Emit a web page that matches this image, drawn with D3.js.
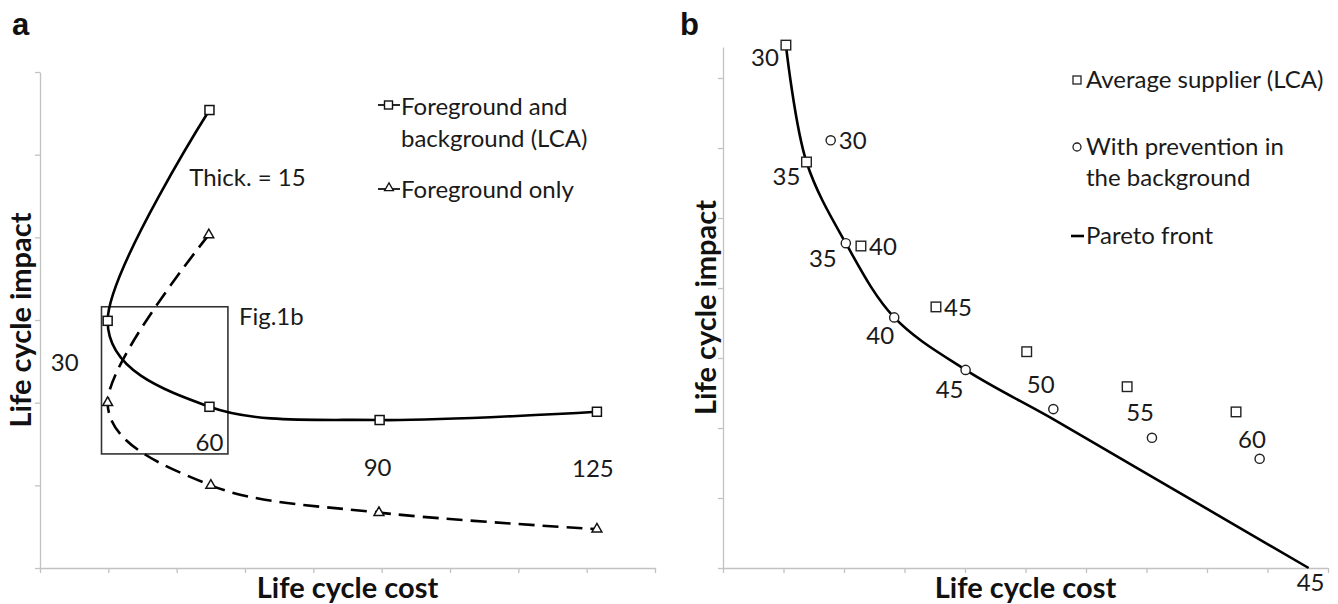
<!DOCTYPE html>
<html>
<head>
<meta charset="utf-8">
<script src="https://cdn.jsdelivr.net/npm/d3@7"></script>
<style>
  body { margin: 0; background: #fff; }
  svg { font-family: Lato, "Open Sans", sans-serif; }
  .axis path, .axis line { stroke: #c2c2c2; stroke-width: 1.3; }
  .lbl { font-size: 24px; fill: #1a1a1a; }
  .title { font-size: 29px; font-weight: bold; fill: #111; }
  .panel { font-family: "Liberation Sans", Arial, sans-serif; font-size: 31px; font-weight: bold; fill: #111; }
</style>
</head>
<body>
<svg id="chart" width="1338" height="604"></svg>
<script>
// ---- panel a : thickness scenarios (axes in arbitrary units) ----
const thickA     = [15, 30, 60, 90, 125];
const costLCA    = [2.48, 0.99, 2.48, 4.97, 8.15];
const impactLCA  = [5.54, 2.99, 1.95, 1.79, 1.89];
const costFG     = [2.47, 0.99, 2.50, 4.96, 8.15];
const impactFG   = [4.03, 2.00, 1.00, 0.67, 0.47];
const zoomWindow = [0.90, 2.75, 1.38, 3.16];   // cost from/to, impact from/to (Fig.1b)

// ---- panel b : thickness 30..60 ----
const thickB     = [30, 35, 40, 45, 50, 55, 60];
const costAvg    = [1.04, 1.38, 2.28, 3.52, 5.02, 6.68, 8.48];
const impactAvg  = [7.47, 5.80, 4.60, 3.73, 3.09, 2.59, 2.23];
const costPrev   = [1.78, 2.03, 2.83, 4.01, 5.46, 7.09, 8.87];
const impactPrev = [6.11, 4.64, 3.58, 2.83, 2.27, 1.86, 1.56];
// pareto front
const paretoCost   = [1.04, 1.38, 2.03, 2.83, 4.01, 5.45, 6.86, 9.68];
const paretoImpact = [7.47, 5.80, 4.64, 3.58, 2.83, 2.13, 1.42, 0];
const paretoEndLabel = 45;

// label offsets (px) relative to marker
const offA    = [[38, 67], [-43, 42], [0, 36], [-2, 47], [-4, 57]];
const offAvg  = [[-21, 12], [-20, 14], [22, 0], [22, 0], [14, 33], [13, 26], [16, 27]];
const offPrev = [[22, 0], [-23, 15], [-14, 18], [-16, 19], null, null, null];

const svg = d3.select('#chart');

// ================= panel a =================
const xa = d3.scaleLinear().domain([0, 9]).range([40, 655]);
const ya = d3.scaleLinear().domain([0, 6]).range([568, 72]);
const gA = svg.append('g');

gA.append('g').attr('class', 'axis')
  .attr('transform', `translate(0,${ya(0)})`)
  .call(d3.axisBottom(xa).tickValues(d3.range(0, 10)).tickSize(5).tickSizeOuter(0).tickFormat(''));
gA.append('g').attr('class', 'axis')
  .attr('transform', `translate(${xa(0)},0)`)
  .call(d3.axisLeft(ya).tickValues(d3.range(0, 7)).tickSize(5).tickSizeOuter(0).tickFormat(''));

const ptsLCA = thickA.map((t, i) => ({ t, x: costLCA[i], y: impactLCA[i] }));
const ptsFG  = thickA.map((t, i) => ({ t, x: costFG[i], y: impactFG[i] }));
const lineA = d3.line().curve(d3.curveCardinal.tension(0)).x(d => xa(d.x)).y(d => ya(d.y));

// Fig.1b window
gA.append('rect')
  .attr('x', xa(zoomWindow[0])).attr('y', ya(zoomWindow[3]))
  .attr('width', xa(zoomWindow[1]) - xa(zoomWindow[0]))
  .attr('height', ya(zoomWindow[2]) - ya(zoomWindow[3]))
  .attr('fill', 'none').attr('stroke', '#333').attr('stroke-width', 1.6);
gA.append('text').attr('class', 'lbl')
  .attr('x', xa(zoomWindow[1]) + 11).attr('y', ya(zoomWindow[3]) + 18)
  .text('Fig.1b');

gA.append('path').datum(ptsLCA).attr('d', lineA)
  .attr('fill', 'none').attr('stroke', '#000').attr('stroke-width', 2.6);
gA.append('path').datum(ptsFG).attr('d', lineA)
  .attr('fill', 'none').attr('stroke', '#000').attr('stroke-width', 2.6)
  .attr('stroke-dasharray', '16,8');

gA.selectAll('.sqA').data(ptsLCA).join('rect')
  .attr('x', d => xa(d.x) - 4.5).attr('y', d => ya(d.y) - 4.5)
  .attr('width', 9).attr('height', 9)
  .attr('fill', '#fff').attr('stroke', '#111').attr('stroke-width', 1.5);
const tri = d3.symbol().type(d3.symbolTriangle).size(42);
gA.selectAll('.triA').data(ptsFG).join('path')
  .attr('d', tri)
  .attr('transform', d => `translate(${xa(d.x)},${ya(d.y)})`)
  .attr('fill', '#fff').attr('stroke', '#111').attr('stroke-width', 1.5);

gA.selectAll('.lblA').data(ptsLCA).join('text')
  .attr('class', 'lbl').attr('text-anchor', 'middle').attr('dy', '0.36em')
  .attr('x', (d, i) => xa(d.x) + offA[i][0])
  .attr('y', (d, i) => ya(d.y) + offA[i][1])
  .text((d, i) => i === 0 ? `Thick. = ${d.t}` : d.t);

// legend a
const legA = gA.append('g');
legA.append('line').attr('x1', 378).attr('x2', 400).attr('y1', 105).attr('y2', 105)
  .attr('stroke', '#111').attr('stroke-width', 1.8);
legA.append('rect').attr('x', 384.5).attr('y', 101).attr('width', 8).attr('height', 8)
  .attr('fill', '#fff').attr('stroke', '#111').attr('stroke-width', 1.4);
legA.append('text').attr('class', 'lbl').attr('x', 401).attr('y', 115).text('Foreground and');
legA.append('text').attr('class', 'lbl').attr('x', 401).attr('y', 147).text('background (LCA)');
legA.append('line').attr('x1', 378).attr('x2', 400).attr('y1', 189).attr('y2', 189)
  .attr('stroke', '#111').attr('stroke-width', 1.8);
legA.append('path').attr('d', d3.symbol().type(d3.symbolTriangle).size(34))
  .attr('transform', 'translate(389,188)')
  .attr('fill', '#fff').attr('stroke', '#111').attr('stroke-width', 1.3);
legA.append('text').attr('class', 'lbl').attr('x', 401).attr('y', 198).text('Foreground only');

gA.append('text').attr('class', 'title').attr('text-anchor', 'middle')
  .attr('x', (xa(0) + xa(9)) / 2).attr('y', 598).text('Life cycle cost');
gA.append('text').attr('class', 'title').attr('text-anchor', 'middle')
  .attr('transform', `translate(31,${(ya(0) + ya(6)) / 2}) rotate(-90)`)
  .text('Life cycle impact');
svg.append('text').attr('class', 'panel').attr('x', 12).attr('y', 35).text('a');

// ================= panel b =================
const xb = d3.scaleLinear().domain([0, 10]).range([723, 1328]);
const yb = d3.scaleLinear().domain([0, 7.443]).range([568, 47]);
const gB = svg.append('g');

gB.append('g').attr('class', 'axis')
  .attr('transform', `translate(0,${yb(0)})`)
  .call(d3.axisBottom(xb).tickValues(d3.range(0, 11)).tickSize(5).tickSizeOuter(0).tickFormat(''));
gB.append('g').attr('class', 'axis')
  .attr('transform', `translate(${xb(0)},0)`)
  .call(d3.axisLeft(yb).tickValues(d3.range(0, 8)).tickSize(5).tickSizeOuter(0).tickFormat(''));

const ptsAvg  = thickB.map((t, i) => ({ t, x: costAvg[i],  y: impactAvg[i] }));
const ptsPrev = thickB.map((t, i) => ({ t, x: costPrev[i], y: impactPrev[i] }));
const ptsPareto = paretoCost.map((c, i) => ({ x: c, y: paretoImpact[i] }));

gB.append('path').datum(ptsPareto)
  .attr('d', d3.line().curve(d3.curveCatmullRom.alpha(0.5)).x(d => xb(d.x)).y(d => yb(d.y)))
  .attr('fill', 'none').attr('stroke', '#000').attr('stroke-width', 2.6);

gB.selectAll('.sqB').data(ptsAvg).join('rect')
  .attr('x', d => xb(d.x) - 4.8).attr('y', d => yb(d.y) - 4.8)
  .attr('width', 9.6).attr('height', 9.6)
  .attr('fill', '#fff').attr('stroke', '#222').attr('stroke-width', 1.4);
gB.selectAll('.ciB').data(ptsPrev).join('circle')
  .attr('cx', d => xb(d.x)).attr('cy', d => yb(d.y)).attr('r', 4.6)
  .attr('fill', '#fff').attr('stroke', '#222').attr('stroke-width', 1.4);

gB.selectAll('.lblAvg').data(ptsAvg).join('text')
  .attr('class', 'lbl').attr('text-anchor', 'middle').attr('dy', '0.36em')
  .attr('x', (d, i) => xb(d.x) + offAvg[i][0])
  .attr('y', (d, i) => yb(d.y) + offAvg[i][1])
  .text(d => d.t);
gB.selectAll('.lblPrev').data(ptsPrev.filter((d, i) => offPrev[i])).join('text')
  .attr('class', 'lbl').attr('text-anchor', 'middle').attr('dy', '0.36em')
  .attr('x', (d, i) => xb(d.x) + offPrev[i][0])
  .attr('y', (d, i) => yb(d.y) + offPrev[i][1])
  .text(d => d.t);
const pEnd = ptsPareto[ptsPareto.length - 1];
gB.append('text').attr('class', 'lbl').attr('text-anchor', 'middle').attr('dy', '0.36em')
  .attr('x', xb(pEnd.x) + 2).attr('y', yb(pEnd.y) + 14).text(paretoEndLabel);

// legend b
const legB = gB.append('g');
legB.append('rect').attr('x', 1073).attr('y', 76).attr('width', 8).attr('height', 8)
  .attr('fill', '#fff').attr('stroke', '#222').attr('stroke-width', 1.3);
legB.append('text').attr('class', 'lbl').attr('x', 1086).attr('y', 88).text('Average supplier (LCA)');
legB.append('circle').attr('cx', 1077).attr('cy', 147).attr('r', 4)
  .attr('fill', '#fff').attr('stroke', '#222').attr('stroke-width', 1.3);
legB.append('text').attr('class', 'lbl').attr('x', 1086).attr('y', 155).text('With prevention in');
legB.append('text').attr('class', 'lbl').attr('x', 1086).attr('y', 186).text('the background');
legB.append('line').attr('x1', 1071).attr('x2', 1084).attr('y1', 236).attr('y2', 236)
  .attr('stroke', '#000').attr('stroke-width', 2.6);
legB.append('text').attr('class', 'lbl').attr('x', 1086).attr('y', 244).text('Pareto front');

gB.append('text').attr('class', 'title').attr('text-anchor', 'middle')
  .attr('x', (xb(0) + xb(10)) / 2).attr('y', 598).text('Life cycle cost');
gB.append('text').attr('class', 'title').attr('text-anchor', 'middle')
  .attr('transform', `translate(716,${(yb(0) + yb(7.443)) / 2}) rotate(-90)`)
  .text('Life cycle impact');
svg.append('text').attr('class', 'panel').attr('x', 680).attr('y', 35).text('b');
</script>
</body>
</html>
